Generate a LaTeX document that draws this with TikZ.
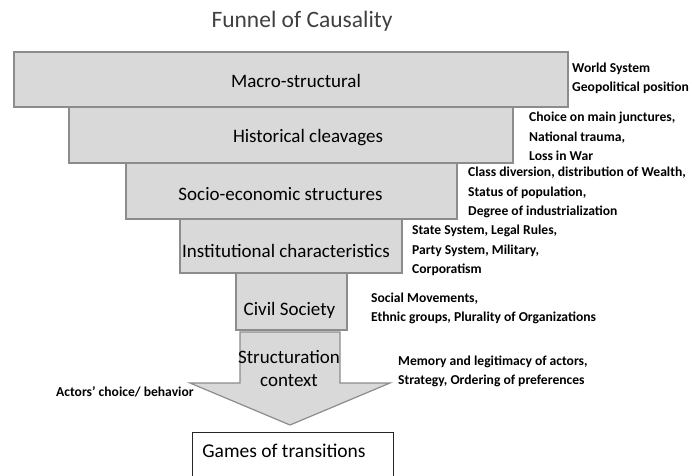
\documentclass[tikz,border=0pt]{standalone}
\usepackage{fontspec}
\setmainfont{Carlito}
\usepackage{xcolor}
\usetikzlibrary{positioning}
\definecolor{boxfill}{HTML}{D9D9D9}
\definecolor{boxline}{HTML}{8C8C8C}
\definecolor{titlegray}{HTML}{404040}

\begin{document}
\begin{tikzpicture}[
    x=1pt, y=-1pt,
    layer/.style={draw=boxline, fill=boxfill, line width=1.2pt, inner sep=0pt},
    layertext/.style={inner sep=0pt, font=\fontsize{19}{23}\selectfont},
    side/.style={inner sep=0pt, anchor=west, align=left, font=\fontsize{13.6}{19.5}\selectfont\bfseries}
]
\useasboundingbox (0,0) rectangle (692,475);
\node[font=\fontsize{23.5}{28}\selectfont, text=titlegray] (title) at (302,21) {Funnel of Causality};

% funnel layers
\node[layer, minimum width=554, minimum height=55] (macro) at (291,79.5) {};
\node[layer, minimum width=444, minimum height=56] (hist) at (291,135) {};
\node[layer, minimum width=331, minimum height=56] (socio) at (291.5,191) {};
\node[layer, minimum width=222, minimum height=54] (inst) at (291,246) {};
\node[layer, minimum width=111, minimum height=57] (civil) at (291.5,301.5) {};

\node[layertext] at ([xshift=5,yshift=-1]macro.center) {Macro-structural};
\node[layertext] at ([xshift=17,yshift=-3]hist.center) {Historical cleavages};
\node[layertext] at ([xshift=-11,yshift=-3]socio.center) {Socio-economic structures};
\node[layertext] at ([xshift=-5,yshift=-5]inst.center) {Institutional characteristics};
\node[layertext] at ([xshift=-2,yshift=-9]civil.center) {Civil Society};

% arrow
\draw[layer] (240,332) -- (340,332) -- (340,383) -- (390,383) -- (290,425)
    -- (190,383) -- (240,383) -- cycle;
\node[layertext, align=center, font=\fontsize{19}{23}\selectfont] (struct) at (289,368.5) {Structuration\\context};

\node[draw=black!85, line width=1pt, minimum width=201, minimum height=80, inner sep=0pt] (games) at (292.5,472) {};
\node[layertext, font=\fontsize{19.5}{23}\selectfont] at (284,451) {Games of transitions};

% side notes
\node[side] (world) at (572,78.5) {World System\\Geopolitical position};
\node[side] (choice) at (529,136.5) {Choice on main junctures,\\National trauma,\\Loss in War};
\node[side] (class) at (468,192.5) {Class diversion, distribution of Wealth,\\Status of population,\\Degree of industrialization};
\node[side] (state) at (412,250.5) {State System, Legal Rules,\\Party System, Military,\\Corporatism};
\node[side] (social) at (371,308.5) {Social Movements,\\Ethnic groups, Plurality of Organizations};
\node[side] (memory) at (398,371.5) {Memory and legitimacy of actors,\\Strategy, Ordering of preferences};
\node[side] (actors) at (56,392) {Actors’ choice/ behavior};
\end{tikzpicture}
\end{document}
